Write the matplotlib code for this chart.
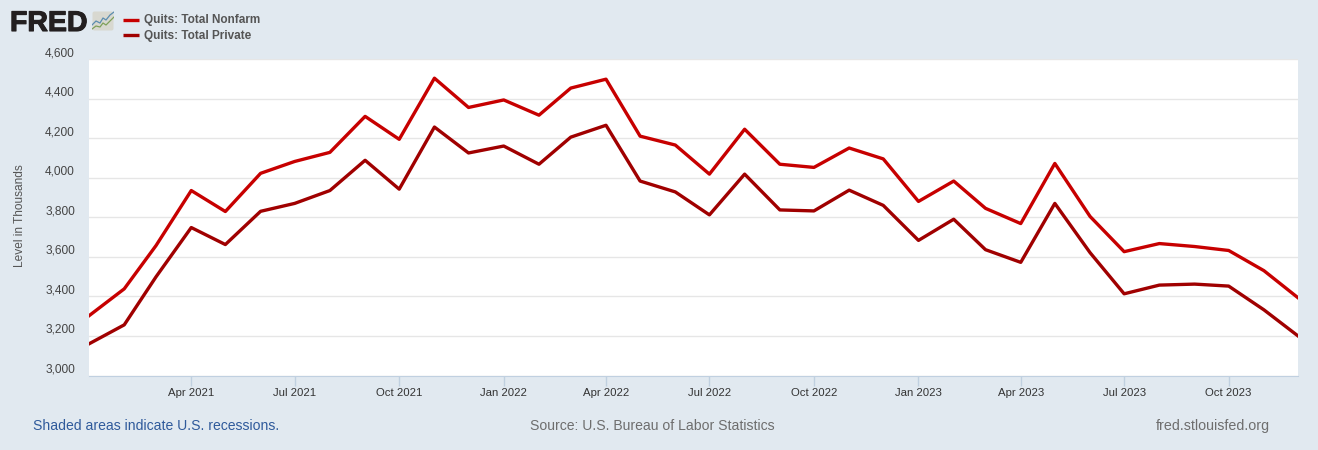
import datetime as dt

from matplotlib import pyplot as plt
from matplotlib import patheffects
from matplotlib.dates import date2num
from matplotlib.lines import Line2D
from matplotlib.patches import FancyBboxPatch
from matplotlib.ticker import FuncFormatter, MultipleLocator

W, H = 1318, 450
BG = "#e1e9f0"
GRID = "#e6e6e6"
TICK = "#c0d0e0"

months = [dt.date(y, m, 1) for y in (2021, 2022, 2023) for m in range(1, 13)]

nonfarm = [3302, 3438, 3657, 3935, 3829, 4022, 4082, 4128, 4310, 4194, 4503, 4355,
           4393, 4316, 4453, 4498, 4210, 4165, 4018, 4245, 4068, 4052, 4150, 4095,
           3880, 3983, 3845, 3768, 4072, 3804, 3626, 3667, 3652, 3632, 3530, 3393]
private = [3160, 3256, 3499, 3748, 3662, 3830, 3870, 3935, 4088, 3942, 4256, 4125,
           4160, 4068, 4205, 4265, 3983, 3928, 3812, 4018, 3837, 3832, 3937, 3860,
           3683, 3790, 3636, 3572, 3870, 3621, 3413, 3457, 3462, 3452, 3332, 3200]

tick_dates = [dt.date(y, m, 1) for y, m in [(2021, 4), (2021, 7), (2021, 10), (2022, 1), (2022, 4), (2022, 7),
                                            (2022, 10), (2023, 1), (2023, 4), (2023, 7), (2023, 10)]]
tick_labels = [d.strftime("%b %Y") for d in tick_dates]

plt.rcParams["font.family"] = ["Liberation Sans", "DejaVu Sans"]

fig = plt.figure(figsize=(W / 100, H / 100), dpi=100, facecolor=BG)


def px_axes(x0, y0, x1, y1, **kw):
    # pixel box, y measured from the top
    return fig.add_axes([x0 / W, 1 - y1 / H, (x1 - x0) / W, (y1 - y0) / H], **kw)


ax = px_axes(89, 59, 1298, 375.5)
ax.plot(date2num(months), nonfarm, color="#c70000", lw=2.4, solid_joinstyle="round", zorder=3)
ax.plot(date2num(months), private, color="#a00000", lw=2.4, solid_joinstyle="round", zorder=3)

ax.set_xlim(date2num(months[0]), date2num(months[-1]))
ax.set_ylim(3000, 4600)
ax.yaxis.set_major_locator(MultipleLocator(200))
ax.yaxis.set_major_formatter(FuncFormatter(lambda v, _: f"{int(v):,}"))
ax.set_xticks(date2num(tick_dates))
ax.set_xticklabels(tick_labels)
ax.grid(axis="y", color=GRID, lw=1)
ax.set_axisbelow(True)
ax.tick_params(axis="y", length=0, pad=10.2, labelsize=8.6, labelcolor="#444444")
ax.tick_params(axis="x", length=7, width=1, color=TICK, pad=1.7, labelsize=8.2, labelcolor="#333333")
for lbl in ax.get_yticklabels():
    lbl.set_verticalalignment("bottom")
for s in ("top", "left", "right"):
    ax.spines[s].set_visible(False)
ax.spines["bottom"].set_color(TICK)

fig.text(20 / W, 1 - 216 / H, "Level in Thousands", rotation=90, ha="center", va="center",
         fontsize=8.6, color="#555555")

# logo
logo = fig.text(10 / W, 1 - 31 / H, "FRED", fontsize=20.5, fontweight="bold", color="#231f20",
                ha="left", va="baseline")
logo.set_path_effects([patheffects.withStroke(linewidth=0.8, foreground="#231f20")])
icon = px_axes(92, 11, 114, 31)
icon.set_xlim(0, 22)
icon.set_ylim(20, 0)
icon.axis("off")
icon.add_patch(FancyBboxPatch((0.5, 0.5), 21, 19, boxstyle="round,pad=0,rounding_size=2",
                              fc="#d8d8d0", ec="none"))
icon.plot([0, 4, 8, 11, 14, 18, 22], [14, 10, 12, 7, 9, 4, 1], color="#5b8db0", lw=0.9)
icon.plot([0, 4, 8, 11, 14, 18, 22], [18, 15, 16, 12, 14, 10, 6], color="#7fa05a", lw=0.9)

# legend
legend_rows = [("Quits: Total Nonfarm", "#c70000", 19.5), ("Quits: Total Private", "#a00000", 34.5)]
for name, color, y in legend_rows:
    fig.add_artist(Line2D([123 / W, 139 / W], [1 - y / H, 1 - y / H], color=color, lw=2.4,
                          solid_capstyle="butt"))
    fig.text(144 / W, 1 - (y + 1) / H, name, fontsize=8.5, fontweight="bold", color="#555555",
             ha="left", va="center")

# footer
fig.text(33 / W, 1 - 425.5 / H, "Shaded areas indicate U.S. recessions.", fontsize=10.1,
         color="#2f5a9b", ha="left", va="center")
fig.text(530 / W, 1 - 425.5 / H, "Source: U.S. Bureau of Labor Statistics", fontsize=10.1,
         color="#6e6e6e", ha="left", va="center")
fig.text(1270 / W, 1 - 426 / H, "fred.stlouisfed.org", fontsize=10.3,
         color="#6e6e6e", ha="right", va="center")

fig.savefig("out.png", dpi=100, facecolor=BG)
